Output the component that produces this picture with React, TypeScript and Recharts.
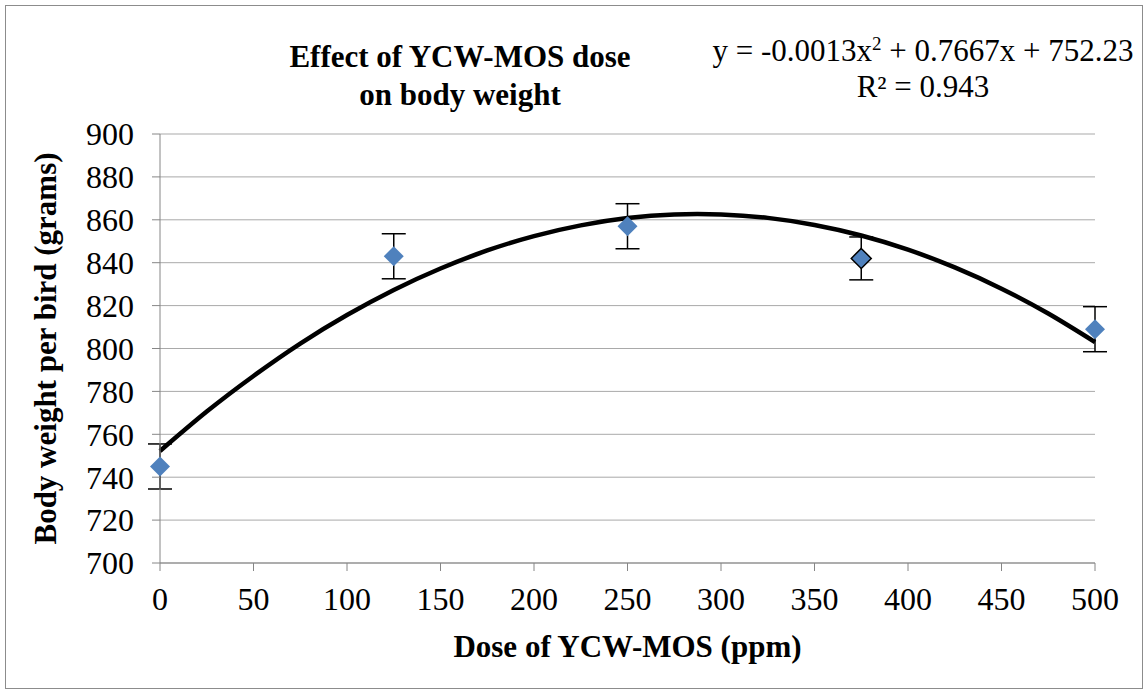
import { ComposedChart, Scatter, Line, XAxis, YAxis, CartesianGrid, ErrorBar } from "recharts"

// measured points (dose in ppm, body weight in grams, error bar half-height)
const doses = [0, 125, 250, 375, 500]
const weights = [745, 843, 857, 842, 809]
const errors = [10.5, 10.5, 10.5, 10, 10.5]

// polynomial trendline, every 25 ppm
const curveDoses = [0, 25, 50, 75, 100, 125, 150, 175, 200, 225, 250, 275, 300, 325, 350, 375, 400, 425, 450, 475, 500]
const curveWeights = [752.2, 770.6, 787.2, 802.3, 815.6, 827.3, 837.3, 845.7, 852.4, 857.4, 860.8, 862.5, 862.5, 860.9, 857.6, 852.7, 846.1, 837.8, 827.9, 816.3, 803]

const xTicks = [0, 50, 100, 150, 200, 250, 300, 350, 400, 450, 500]
const yTicks = [700, 720, 740, 760, 780, 800, 820, 840, 860, 880, 900]

const points = doses.map((d, i) => ({ dose: d, weight: weights[i], err: errors[i] }))
const curve = curveDoses.map((d, i) => ({ dose: d, weight: curveWeights[i] }))

const serif = "Liberation Serif, DejaVu Serif, serif"
const axisGrey = "#868686"

const Diamond = (props: any) => {
  const { cx, cy, payload } = props
  const r = 10
  const outlined = payload && payload.dose === 375
  return (
    <path
      d={`M${cx},${cy - r} L${cx + r},${cy} L${cx},${cy + r} L${cx - r},${cy} Z`}
      fill="#4f81bd"
      stroke={outlined ? "#000" : "none"}
      strokeWidth={1.5}
    />
  )
}

export default function App() {
  return (
    <div style={{ position: "absolute", left: 0, top: 0, width: 1148, height: 691, background: "#fff", fontFamily: serif }}>
      <div style={{ position: "absolute", left: 5, top: 5, width: 1136, height: 682, border: "1px solid #8c8c8c" }} />
      <div
        style={{
          position: "absolute",
          left: 230,
          top: 38,
          width: 460,
          textAlign: "center",
          fontWeight: "bold",
          fontSize: 31,
          lineHeight: "38px",
          fontFamily: serif,
        }}
      >
        Effect of YCW-MOS dose
        <br />
        on body weight
      </div>
      <div
        style={{
          position: "absolute",
          left: 670,
          top: 33,
          width: 506,
          textAlign: "center",
          fontSize: 31,
          lineHeight: "36px",
          fontFamily: serif,
        }}
      >
        y = -0.0013x<sup style={{ fontSize: 19, verticalAlign: "11px", lineHeight: 0 }}>2</sup> + 0.7667x + 752.23
        <br />
        R² = 0.943
      </div>
      <div style={{ position: "absolute", left: 0, top: 0 }}>
        <ComposedChart width={1148} height={691} margin={{ top: 134, right: 53, bottom: 68, left: 0 }}>
          <CartesianGrid vertical={false} stroke="#a9a9a9" strokeWidth={1} />
          <XAxis
            type="number"
            dataKey="dose"
            domain={[0, 500]}
            ticks={xTicks}
            interval={0}
            height={60}
            stroke={axisGrey}
            tickSize={8}
            tickMargin={16}
            tick={{ fill: "#000", fontSize: 32, fontFamily: serif }}
            label={{
              value: "Dose of YCW-MOS (ppm)",
              position: "bottom",
              offset: 12,
              style: { fill: "#000", fontSize: 31, fontWeight: "bold", fontFamily: serif },
            }}
          />
          <YAxis
            type="number"
            dataKey="weight"
            domain={[700, 900]}
            ticks={yTicks}
            interval={0}
            width={160}
            stroke={axisGrey}
            tickSize={8}
            tickMargin={18}
            tick={{ fill: "#000", fontSize: 32, fontFamily: serif }}
            label={{
              value: "Body weight per bird (grams)",
              angle: -90,
              position: "insideLeft",
              offset: 45,
              style: { fill: "#000", fontSize: 31, fontWeight: "bold", fontFamily: serif, textAnchor: "middle" },
            }}
          />
          <Scatter data={points} dataKey="weight" shape={<Diamond />} isAnimationActive={false}>
            <ErrorBar dataKey="err" direction="y" width={12} stroke="#000" strokeWidth={1.5} />
          </Scatter>
          <Line
            data={curve}
            dataKey="weight"
            type="natural"
            stroke="#000"
            strokeWidth={4.5}
            dot={false}
            activeDot={false}
            isAnimationActive={false}
          />
        </ComposedChart>
      </div>
    </div>
  )
}
